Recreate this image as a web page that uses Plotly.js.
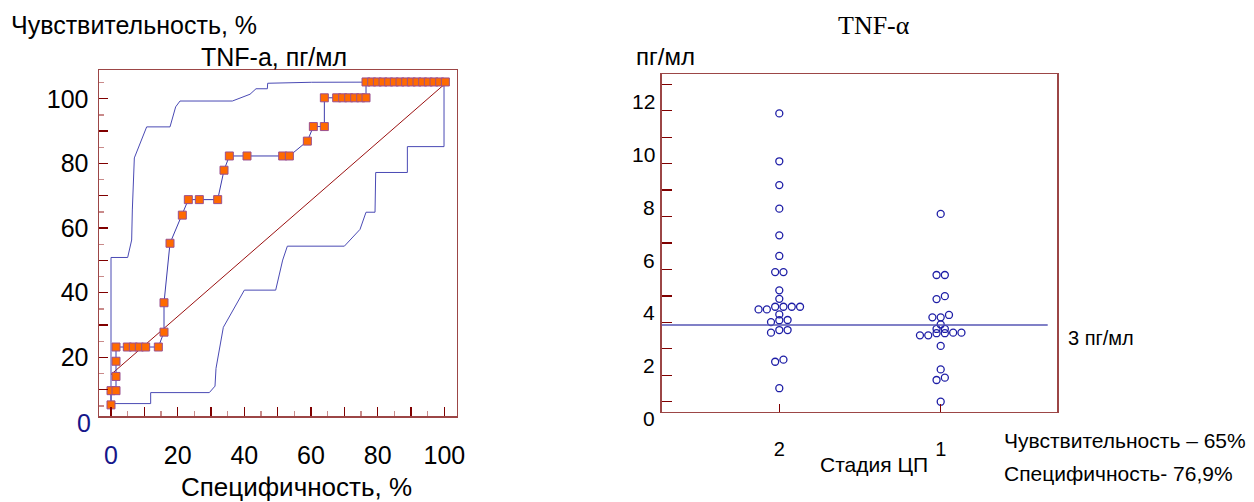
<!DOCTYPE html>
<html>
<head>
<meta charset="utf-8">
<script src="https://cdn.plot.ly/plotly-3.0.1.min.js"></script>
<style>html,body{margin:0;padding:0;background:#fff;}#chart{width:1254px;height:502px;}</style>
</head>
<body>
<div id="chart"></div>
<script>
// ---------- Left panel: ROC curve (Специфичность vs Чувствительность) ----------
const rocSpec = [0, 0, 1.5, 1.5, 1.5, 1.5, 4.9, 6.7, 8.5, 10.4, 14.2, 15.9, 15.9, 17.7, 21.4, 23.2, 26.5, 32.0, 33.9, 35.5, 40.8, 51.5, 53.5, 58.9, 60.7, 64.0, 64.0, 67.7, 69.5, 71.3, 73.1, 74.9, 76.5, 76.5, 78.2, 79.9, 81.6, 83.3, 85.0, 86.7, 88.4, 90.1, 91.8, 93.5, 95.2, 96.9, 98.6, 100.3];
const rocSens = [5.3, 9.7, 9.7, 14.1, 18.8, 23.2, 23.2, 23.2, 23.2, 23.2, 23.2, 27.8, 36.9, 55.3, 64.0, 68.8, 68.8, 68.8, 77.9, 82.3, 82.3, 82.3, 82.3, 86.9, 91.4, 91.4, 100.3, 100.3, 100.3, 100.3, 100.3, 100.3, 100.3, 105.2, 105.2, 105.2, 105.2, 105.2, 105.2, 105.2, 105.2, 105.2, 105.2, 105.2, 105.2, 105.2, 105.2, 105.2];
const ciUpSpec = [0, 0, 5.0, 6.2, 6.4, 7.0, 10.7, 17.7, 19.4, 20.7, 36.4, 41.7, 43.5, 46.9, 47.0, 60.2, 100.2];
const ciUpSens = [5.3, 50.9, 50.9, 56.3, 65.6, 81.7, 91.3, 91.3, 97.5, 99.3, 99.3, 101.4, 103.1, 103.1, 104.8, 105.1, 105.2];
const ciLoSpec = [0, 11.9, 11.9, 29.5, 31.2, 31.5, 33.7, 40.0, 49.4, 51.5, 52.9, 70.0, 74.7, 76.5, 79.2, 79.4, 88.9, 88.9, 99.9, 99.9, 100.2];
const ciLoSens = [5.7, 5.7, 9.1, 9.1, 11.1, 16.6, 29.3, 40.8, 40.8, 50.1, 54.4, 54.4, 59.6, 64.9, 64.9, 77.2, 77.2, 85.2, 85.2, 104.2, 105.2];
const diagSpec = [0, 99.7];
const diagSens = [14.7, 104.2];
const leftXTickLabels = [0, 20, 40, 60, 80, 100];
const leftYTickLabels = [0, 20, 40, 60, 80, 100];

// ---------- Right panel: TNF-α dot plot by stage ----------
const stageCategories = ['2', '1'];
const stage2Values = [10.90, 9.09, 8.19, 7.30, 6.29, 5.51, 4.90, 4.90, 4.21, 3.89, 3.59, 3.59, 3.59, 3.59, 3.49, 3.49, 3.30, 3.09, 3.08, 3.01, 2.71, 2.71, 2.61, 1.59, 1.51, 0.51];
const stage1Values = [7.10, 4.79, 4.79, 3.99, 3.88, 3.28, 3.19, 3.19, 2.92, 2.75, 2.75, 2.61, 2.61, 2.59, 2.59, 2.51, 2.51, 2.11, 1.22, 0.91, 0.82, 0.00];
const cutoffValue = 2.9;
const rightYTickLabels = [0, 2, 4, 6, 8, 10, 12];

// ---------- geometry ----------
const W = 1254, H = 502;
const FONT = 'Arial, "Liberation Sans", sans-serif';
const SERIF = '"Times New Roman", "Liberation Serif", serif';
const px2x = p => p / W;
const px2y = p => (H - p) / H;

const L = {x0: 99, x1: 456.7, y0: 70, y1: 416, xr: [-3.6, 103.7], yr: [1.86, 108.9]};
const R = {x0: 661.7, x1: 1057.3, y0: 74, y1: 411.7, xr: [-0.7286, 1.7224], yr: [-0.378, 12.39]};

const frameColor = '#9c4646';
const tickDark = '#800000';
const tickLight = '#c98a8a';

// beeswarm-like layout: close values share a row and spread symmetrically
function swarm(values, center) {
  const pxPerUnit = (R.x1 - R.x0) / (R.xr[1] - R.xr[0]);
  const step = 8.3 / pxPerUnit;
  const sorted = values.slice().sort((a, b) => a - b);
  const xs = [], ys = [];
  let i = 0;
  while (i < sorted.length) {
    let j = i + 1;
    while (j < sorted.length && sorted[j] - sorted[j - 1] < 0.12) j++;
    const n = j - i;
    for (let k = 0; k < n; k++) {
      xs.push(center + (k - (n - 1) / 2) * step);
      ys.push(sorted[i + k]);
    }
    i = j;
  }
  return {xs, ys};
}
const sw2 = swarm(stage2Values, 0);
const sw1 = swarm(stage1Values, 1);

const blue = '#3c3cac';
const traces = [
  {x: ciUpSpec, y: ciUpSens, xaxis: 'x', yaxis: 'y', mode: 'lines', line: {color: '#4a4ab4', width: 1}, hoverinfo: 'skip'},
  {x: ciLoSpec, y: ciLoSens, xaxis: 'x', yaxis: 'y', mode: 'lines', line: {color: '#4a4ab4', width: 1}, hoverinfo: 'skip'},
  {x: diagSpec, y: diagSens, xaxis: 'x', yaxis: 'y', mode: 'lines', line: {color: '#9a1010', width: 1}, hoverinfo: 'skip'},
  {x: rocSpec, y: rocSens, xaxis: 'x', yaxis: 'y', mode: 'lines+markers', line: {color: blue, width: 1},
   marker: {symbol: 'square', size: 8, color: '#ff6a00', line: {color: '#9a5090', width: 1}}, cliponaxis: false},
  {x: sw2.xs.concat(sw1.xs), y: sw2.ys.concat(sw1.ys), xaxis: 'x2', yaxis: 'y2', mode: 'markers',
   marker: {symbol: 'circle-open', size: 7, color: '#1e1ea6', line: {width: 1.3}}, cliponaxis: false}
];

function tickSet(step, lo, hi, labels) {
  const vals = [], text = [];
  for (let v = lo; v <= hi + 1e-9; v += step) {
    vals.push(v);
    text.push(labels.includes(v) ? String(v) : '');
  }
  return {vals, text};
}
const lx = tickSet(10, 0, 100, leftXTickLabels);
lx.text = lx.text.map((t, i) => (lx.vals[i] === 0 ? '<span style="color:#16168a">0</span>' : t));
const ly = tickSet(10, 10, 100, leftYTickLabels);

const axisBase = {showgrid: false, zeroline: false, showline: true, mirror: true, linecolor: frameColor, linewidth: 1.5,
  ticks: 'inside', tickcolor: tickDark, tickwidth: 1.3, fixedrange: true};

const annotations = [];
function ann(text, x, y, size, opts) {
  annotations.push(Object.assign({text, x: px2x(x), y: px2y(y), xref: 'paper', yref: 'paper', showarrow: false,
    xanchor: 'center', yanchor: 'middle', font: {family: FONT, size, color: '#000'}}, opts || {}));
}
ann('Чувствительность, %', 9, 25, 25, {xanchor: 'left'});
ann('TNF-a, пг/мл', 274, 57, 25);
ann('Специфичность, %', 296, 487, 26);
// y tick labels of the left panel that lie below the frame
leftYTickLabels.filter(v => v < L.yr[0]).forEach(v => {
  const py = L.y1 - (v - L.yr[0]) * (L.y1 - L.y0) / (L.yr[1] - L.yr[0]);
  ann(String(v), 93, py + 1, 25, {xanchor: 'right', font: {family: FONT, size: 25, color: '#16168a'}});
});
ann('TNF-α', 874, 26, 26, {font: {family: SERIF, size: 26, color: '#000'}});
ann('пг/мл', 634, 56, 24, {xanchor: 'left'});
// right panel y labels (drawn offset below their ticks as in the source)
const labelShiftPx = 17;
rightYTickLabels.forEach(v => {
  const py = R.y1 - (v - R.yr[0]) * (R.y1 - R.y0) / (R.yr[1] - R.yr[0]) + labelShiftPx;
  ann(String(v), 657, py, 21, {xanchor: 'right'});
});
ann('Стадия ЦП', 874, 464, 21);
ann('3 пг/мл', 1066, 338, 20, {xanchor: 'left'});
ann('Чувствительность – 65%', 1002, 440, 21, {xanchor: 'left'});
ann('Специфичность- 76,9%', 1002, 473, 21, {xanchor: 'left'});

const layout = {
  width: W, height: H, margin: {l: 0, r: 0, t: 0, b: 0, pad: 0},
  paper_bgcolor: '#fff', plot_bgcolor: '#fff', showlegend: false,
  font: {family: FONT, color: '#000'},
  xaxis: Object.assign({}, axisBase, {domain: [px2x(L.x0), px2x(L.x1)], range: L.xr, anchor: 'y',
    tickmode: 'array', tickvals: lx.vals, ticktext: lx.text, ticklen: 9,
    minor: {dtick: 5, tick0: 0, ticks: 'inside', ticklen: 5, tickcolor: tickLight, tickwidth: 1.3},
    tickfont: {family: FONT, size: 25, color: '#000'}, ticklabelstandoff: 16}),
  yaxis: Object.assign({}, axisBase, {domain: [px2y(L.y1), px2y(L.y0)], range: L.yr, anchor: 'x',
    tickmode: 'array', tickvals: ly.vals, ticktext: ly.text, ticklen: 9,
    minor: {dtick: 5, tick0: 0, ticks: 'inside', ticklen: 5, tickcolor: tickLight, tickwidth: 1.3},
    tickfont: {family: FONT, size: 25, color: '#000'}, ticklabelstandoff: 4}),
  xaxis2: Object.assign({}, axisBase, {domain: [px2x(R.x0), px2x(R.x1)], range: R.xr, anchor: 'y2',
    tickmode: 'array', tickvals: stageCategories.map((c, i) => i), ticktext: stageCategories, ticklen: 8,
    tickfont: {family: FONT, size: 20, color: '#000'}, ticklabelstandoff: 19}),
  yaxis2: Object.assign({}, axisBase, {domain: [px2y(R.y1), px2y(R.y0)], range: R.yr, anchor: 'x2',
    tickmode: 'linear', tick0: 0, dtick: 1, ticklen: 10, showticklabels: false}),
  shapes: [{type: 'line', xref: 'x2 domain', x0: 0, x1: (1047.7 - R.x0) / (R.x1 - R.x0), yref: 'y2', y0: cutoffValue, y1: cutoffValue,
    line: {color: '#5656b4', width: 1.3}}],
  annotations
};

Plotly.newPlot('chart', traces, layout, {displayModeBar: false, staticPlot: true});
</script>
</body>
</html>
